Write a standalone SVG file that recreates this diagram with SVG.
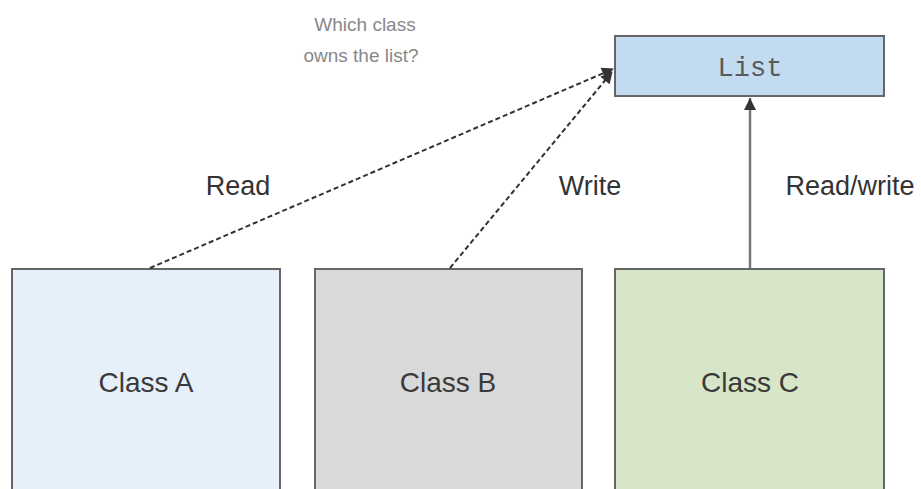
<svg xmlns="http://www.w3.org/2000/svg" width="921" height="489" viewBox="0 0 921 489">
<style>
.box{stroke:#666;stroke-width:2}
.lbl{font-family:"Liberation Sans",Arial,sans-serif;font-size:28px;fill:#3a3a3a;text-anchor:middle}
.edge{font-family:"Liberation Sans",Arial,sans-serif;font-size:27px;fill:#333;text-anchor:middle}
.q{font-family:"Liberation Sans",Arial,sans-serif;font-size:19px;fill:#888;text-anchor:middle}
.dash{stroke:#333;stroke-width:2;stroke-dasharray:5,3;fill:none}
.solid{stroke:#777;stroke-width:2.5;fill:none}
</style>
<defs>
<marker id="ah" markerWidth="13" markerHeight="12" refX="11" refY="6" orient="auto" markerUnits="userSpaceOnUse" viewBox="0 0 12 12">
<path d="M0,0 L12,6 L0,12 z" fill="#333"/>
</marker>
<marker id="ah2" markerWidth="12" markerHeight="12" refX="10" refY="5" orient="auto" markerUnits="userSpaceOnUse" viewBox="0 0 10 10">
<path d="M0,0 L10,5 L0,10 z" fill="#333"/>
</marker>
</defs>
<rect width="921" height="489" fill="#fff"/>
<g id="list">
<rect class="box" x="615" y="36" width="269" height="60" fill="#c3dbf0"/>
<text x="750" y="76" font-family="'Liberation Mono','Courier New',monospace" font-size="27" fill="#5a5a5a" text-anchor="middle">List</text>
</g>
<g id="classA">
<rect class="box" x="12" y="269" width="268" height="230" fill="#e6f0fa"/>
<text class="lbl" x="146" y="392">Class A</text>
</g>
<g id="classB">
<rect class="box" x="315" y="269" width="267" height="230" fill="#d9d9d9"/>
<text class="lbl" x="448" y="392">Class B</text>
</g>
<g id="classC">
<rect class="box" x="615" y="269" width="269" height="230" fill="#d7e6c9"/>
<text class="lbl" x="750" y="392">Class C</text>
</g>
<g id="connectors">
<line class="dash" x1="150" y1="268" x2="613" y2="69" marker-end="url(#ah)"/>
<line class="dash" x1="450" y1="268" x2="612" y2="72" marker-end="url(#ah)"/>
<line class="solid" x1="750" y1="268" x2="750" y2="98" marker-end="url(#ah2)"/>
</g>
<text class="edge" x="238" y="195">Read</text>
<text class="edge" x="590" y="195">Write</text>
<text class="edge" x="850" y="195">Read/write</text>
<text class="q" x="365" y="31">Which class</text>
<text class="q" x="361" y="62">owns the list?</text>
</svg>
